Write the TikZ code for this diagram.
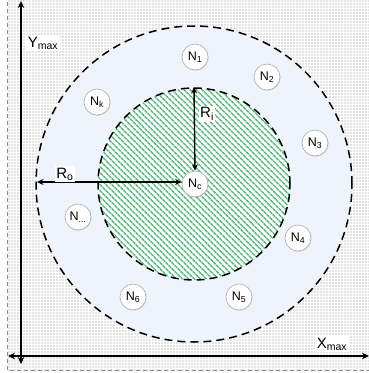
\documentclass[tikz,border=0pt]{standalone}
\usepackage{fontspec}
\setmainfont{Liberation Sans}
\usetikzlibrary{patterns,patterns.meta,arrows.meta,shadows}
\definecolor{discblue}{HTML}{EEF3FC}
\definecolor{hatchgreen}{HTML}{5DBE85}
\definecolor{dotgray}{HTML}{8A8A8A}
\newcommand\lsub[1]{\textsubscript{#1}}
\begin{document}
\begin{tikzpicture}[x=1pt,y=-1pt,
  nodecirc/.style={circle, draw=gray!65, fill=white, line width=0.6pt,
    minimum size=26pt, inner sep=0pt, font=\fontsize{12.5}{12.5}\selectfont,
    drop shadow={opacity=0.18, shadow xshift=0.7pt, shadow yshift=-0.9pt}},
  labelbox/.style={fill=white, inner sep=1.5pt, font=\fontsize{15}{15}\selectfont},
  axisline/.style={line width=1.6pt, {Stealth[length=7pt,width=6.5pt]}-{Stealth[length=7pt,width=6.5pt]}},
  radarrow/.style={line width=1.4pt, {Stealth[length=6.5pt,width=6pt]}-{Stealth[length=6.5pt,width=6pt]}},
  dashcirc/.style={draw=black, line width=1.5pt, dash pattern=on 8pt off 5pt}]
\useasboundingbox (0,0) rectangle (369,373);
\fill[white] (0,0) rectangle (369,373);
\fill[pattern={Dots[radius=0.55pt,distance=3pt]}, pattern color=dotgray] (7,0) rectangle (369,370);
\draw[dotgray, line width=0.9pt, dash pattern=on 4pt off 3pt] (7,-5) rectangle (375,370);
% outer disc
\fill[discblue] (194,184) circle[radius=158pt];
% inner disc
\fill[white] (194,184) circle[radius=96pt];
\fill[pattern={Lines[angle=-45,distance=4pt,line width=1.7pt]}, pattern color=hatchgreen] (194,184) circle[radius=96pt];
\draw[dashcirc] (194,184) circle[radius=158pt];
\draw[dashcirc] (194,184) circle[radius=96pt];
% axes
\coordinate (xl) at (8,356);
\coordinate (xr) at (369,356);
\coordinate (yt) at (21,1);
\coordinate (yb) at (21,364);
\draw[axisline] (xl) -- (xr);
\draw[axisline] (yb) -- (yt);
\node[labelbox] (ymax) at (43,43) {Y\lsub{max}};
\node[labelbox] (xmax) at (332,344) {X\lsub{max}};
% nodes
\node[nodecirc] (Nc) at (195,184) {N\lsub{c}};
\node[nodecirc] (N1) at (195,57) {N\lsub{1}};
\node[nodecirc] (N2) at (267,77) {N\lsub{2}};
\node[nodecirc] (Nk) at (97,102) {N\lsub{k}};
\node[nodecirc] (N3) at (315,143) {N\lsub{3}};
\node[nodecirc] (Nd) at (78,217) {N\lsub{...}};
\node[nodecirc] (N4) at (298,238) {N\lsub{4}};
\node[nodecirc] (N6) at (133,297) {N\lsub{6}};
\node[nodecirc] (N5) at (239,297) {N\lsub{5}};
% radii
\coordinate (ritop) at (194,87);
\coordinate (roleft) at (37,182);
\draw[radarrow] (Nc.north) -- (ritop);
\draw[radarrow] (roleft) -- (Nc.west |- roleft);
\node[labelbox] (Ri) at (207,114) {R\lsub{i}};
\node[labelbox] (Ro) at (65,174) {R\lsub{o}};
\end{tikzpicture}
\end{document}
